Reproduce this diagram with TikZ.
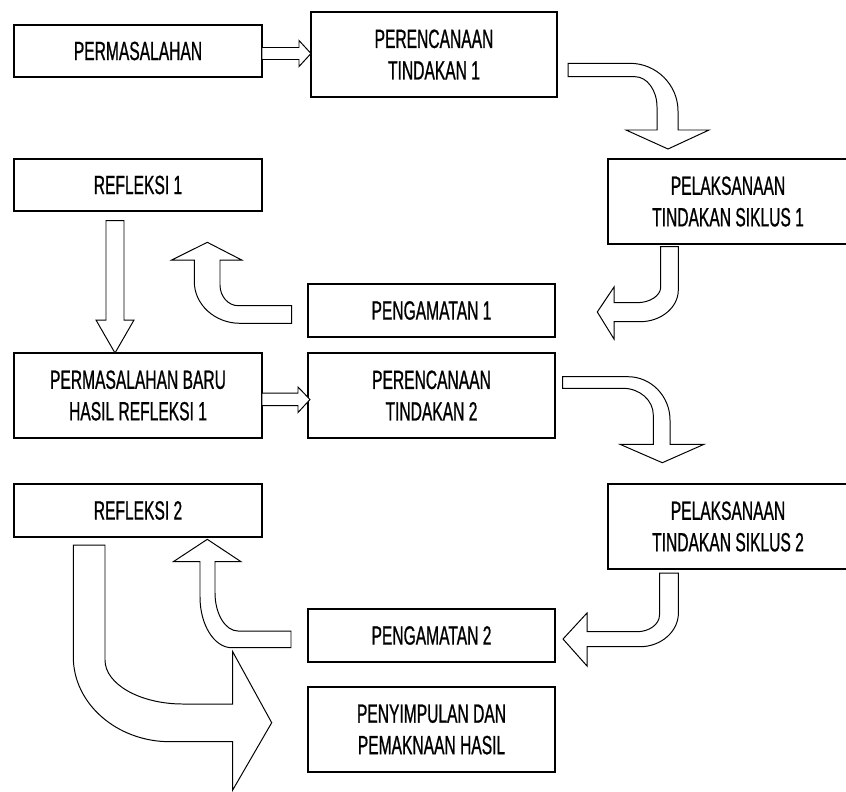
\documentclass[tikz,border=0pt]{standalone}
\usepackage{fontspec}
\newfontfamily\narrowfont[FakeStretch=0.59, FakeBold=0.8]{Liberation Sans}

\begin{document}
\begin{tikzpicture}[x=0.025cm, y=-0.025cm,
        box/.style={draw, line width=1.1pt, minimum width=6.2cm, minimum height=1.3cm, inner sep=0pt, align=center, font=\narrowfont\fontsize{18.8}{22.4}\selectfont},
        tallbox/.style={box, minimum height=2.125cm},
        blockarrow/.style={draw, fill=white, line width=0.7pt, line join=miter}]
        \useasboundingbox (0,0) rectangle (846,791);
        \node[box] (perm) at (138,51) {PERMASALAHAN};
        \node[tallbox, minimum width=6.15cm] (renc1) at (434,54.5) {PERENCANAAN\\TINDAKAN 1};
        \node[tallbox, minimum width=6cm] (laks1) at (728,201.5) {PELAKSANAAN\\TINDAKAN SIKLUS 1};
        \node[box] (refl1) at (138,185) {REFLEKSI 1};
        \node[box, minimum width=6.175cm, minimum height=1.325cm] (amat1) at (431.5,310.5) {PENGAMATAN 1};
        \node[tallbox] (baru) at (138,395.5) {PERMASALAHAN BARU\\HASIL REFLEKSI 1};
        \node[tallbox, minimum width=6.175cm] (renc2) at (431.5,395.5) {PERENCANAAN\\TINDAKAN 2};
        \node[tallbox, minimum width=6cm] (laks2) at (728,526.5) {PELAKSANAAN\\TINDAKAN SIKLUS 2};
        \node[box, minimum height=1.325cm] (refl2) at (138,510.5) {REFLEKSI 2};
        \node[box, minimum width=6.175cm, minimum height=1.325cm] (amat2) at (431.5,635.5) {PENGAMATAN 2};
        \node[tallbox, minimum width=6.175cm] (simpul) at (431.5,729.5) {PENYIMPULAN DAN\\PEMAKNAAN HASIL};
        \draw[blockarrow] (262,47.5) -- (299,47.5) -- (299,40.5) -- (311,53.5) -- (299,66.5) -- (299,59.5) -- (262,59.5) -- cycle;
        \draw[blockarrow] (568,63.3) -- (630,63.3) .. controls (656.4,63.3) and (678,84.8) .. (678,111) -- (678,130) -- (709,130) -- (668,149) -- (626,130) -- (657,130) -- (657,107) .. controls (657,90.3) and (647.1,76.7) .. (635,76.7) -- (568,76.7) -- cycle;
        \draw[blockarrow] (660.7,246.7) -- (678.3,246.7) -- (678.3,290) .. controls (678.3,307.4) and (661.1,321.7) .. (640,321.7) -- (614,321.7) -- (614,339) -- (597.3,312) -- (614,287) -- (614,302.7) -- (637,302.7) .. controls (650,302.7) and (660.7,295.6) .. (660.7,287) -- cycle;
        \draw[blockarrow] (291.7,305.7) -- (238.3,305.7) .. controls (228.2,305.7) and (220,296.4) .. (220,285) -- (220,260) -- (241.7,260) -- (207.3,242.3) -- (171.7,260) -- (194.3,260) -- (194.3,281.7) .. controls (194.3,304.6) and (214.9,323.3) .. (240,323.3) -- (291.7,323.3) -- cycle;
        \draw[blockarrow] (106,220.7) -- (124,220.7) -- (124,320) -- (134,320) -- (115,353) -- (96,320) -- (106,320) -- cycle;
        \draw[blockarrow] (262,393) -- (298,393) -- (298,387) -- (310,399.5) -- (298,412.5) -- (298,405.5) -- (262,405.5) -- cycle;
        \draw[blockarrow] (562.7,376.7) -- (628,376.7) .. controls (651.1,376.7) and (670,396.2) .. (670,420) -- (670,444.3) -- (704,444.3) -- (662.3,462.7) -- (620,444.3) -- (653.3,444.3) -- (653.3,415) .. controls (653.3,400.3) and (639.7,388.3) .. (623,388.3) -- (562.7,388.3) -- cycle;
        \draw[blockarrow] (659.5,573) -- (678.4,573) -- (678.4,613) .. controls (678.4,631.5) and (661.1,646.7) .. (640,646.7) -- (587,646.7) -- (587,666) -- (563,639) -- (587,613) -- (587,631.7) -- (637,631.7) .. controls (649.4,631.7) and (659.5,624.2) .. (659.5,615) -- cycle;
        \draw[blockarrow] (291,631) -- (238,631) .. controls (225.4,631) and (215,613.9) .. (215,593) -- (215,561.7) -- (241,561.7) -- (207.3,539.3) -- (173.3,561.7) -- (200,561.7) -- (200,597) .. controls (200,624.9) and (214.3,647.7) .. (231.7,647.7) -- (291,647.7) -- cycle;
        \draw[blockarrow] (73.3,545) -- (105,545) -- (105,660) .. controls (105,684.2) and (140.1,704) .. (183,704) -- (232.7,704) -- (232.7,651.7) -- (271.7,722.7) -- (232.7,790) -- (232.7,741.7) -- (170,741.7) .. controls (116.8,741.7) and (73.3,703.6) .. (73.3,657) -- cycle;
    \end{tikzpicture}
\end{document}
